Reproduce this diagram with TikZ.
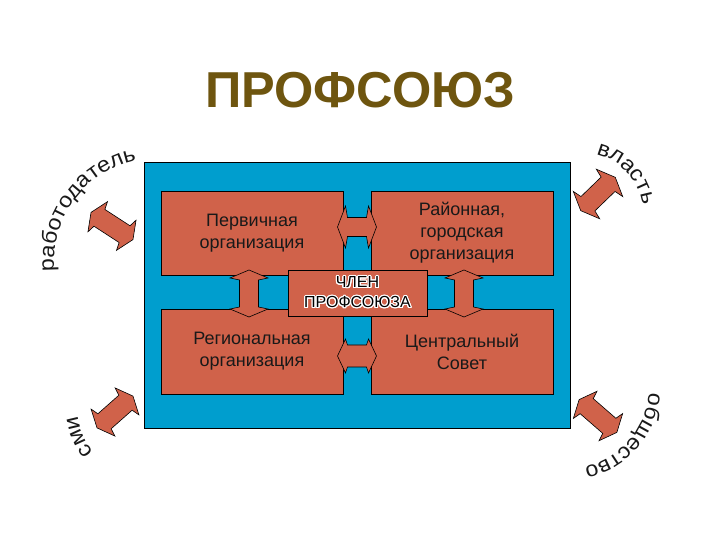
\documentclass[tikz,border=0pt]{standalone}
\usepackage{fontspec}
\setmainfont{Liberation Sans}
\newfontfamily\arcfam[FakeStretch=1.08]{Liberation Sans}
\usepackage[copies]{contour}
\contourlength{1.1pt}
\contournumber{20}
\usetikzlibrary{decorations.text,calc}
\definecolor{boxred}{RGB}{208,98,74}
\definecolor{panelblue}{RGB}{0,158,206}
\definecolor{titlebrown}{RGB}{110,85,15}
\definecolor{txt}{RGB}{25,25,25}
\newcommand{\arcfont}{\arcfam\fontsize{21.5}{21.5}\selectfont}
% #1 position, #2 angle, #3 half length, #4 half head width, #5 half shaft width
\newcommand{\dblarrow}[5]{%
  \draw[arrowshape, shift={#1}, rotate=#2] (-#3,0) -- ({-#3+8},#4) -- ({-#3+10},#5) -- ({#3-10},#5) -- ({#3-8},#4) -- (#3,0) -- ({#3-8},-#4) -- ({#3-10},-#5) -- ({-#3+10},-#5) -- ({-#3+8},-#4) -- cycle;}
\begin{document}
\begin{tikzpicture}[x=1pt,y=1pt,
  panel/.style={draw=black, line width=0.8pt, fill=panelblue, minimum width=426pt, minimum height=266pt, inner sep=0pt},
  orgbox/.style={draw=black, line width=0.8pt, fill=boxred, minimum width=182pt, minimum height=84pt, inner sep=0pt, align=center, text=txt, font=\fontsize{18}{22}\selectfont},
  memberbox/.style={draw=black, line width=0.8pt, fill=boxred, minimum width=139pt, minimum height=46pt, inner sep=0pt, align=center, text=black, font=\fontsize{16}{20}\selectfont},
  arrowshape/.style={draw=black, line width=0.6pt, fill=boxred, line join=miter},
  titlestyle/.style={text=titlebrown, font=\fontsize{50.5}{50.5}\selectfont\bfseries, inner sep=0pt},
  arctext/.style={decorate, decoration={text along path, text align=center, text color=txt, text={|\arcfont|#1}}},
]
\useasboundingbox (0,0) rectangle (720,540);
\fill[white] (0,0) rectangle (720,540);

\node[titlestyle, anchor=base] (title) at (360,432) {ПРОФСОЮЗ};

\node[panel] (panel) at (357,245) {};
\node[orgbox] (prim) at (252,307) {Первичная\\организация};
\node[orgbox] (rayon) at (462,307) {Районная,\\городская\\организация};
\node[orgbox, minimum height=85pt] (reg) at (252,188.5) {Региональная\\организация};
\node[orgbox, minimum height=85pt] (centr) at (462,188.5) {Центральный\\Совет};

\coordinate (ah1) at ($(prim.east)!0.5!(rayon.west)+(0,6)$);
\coordinate (ah2) at ($(reg.east)!0.5!(centr.west)+(0,-4.5)$);
\coordinate (av1) at ($(prim.south)!0.5!(reg.north)+(-3,-1.5)$);
\coordinate (av2) at ($(rayon.south)!0.5!(centr.north)+(2,-1.5)$);
\dblarrow{(ah1)}{0}{19.5}{21}{9.5}
\dblarrow{(ah2)}{0}{19.5}{17}{11}
\dblarrow{(av1)}{90}{23.5}{19}{9.5}
\dblarrow{(av2)}{90}{23.5}{19}{9.5}

\node[memberbox] (member) at (357.5,247) {\contour{white}{ЧЛЕН}\\\contour{white}{ПРОФСОЮЗА}};

\coordinate (otl) at (112,314);
\coordinate (otr) at (598,346);
\coordinate (obl) at (115,128);
\coordinate (obr) at (598,124);
\dblarrow{(otl)}{-33}{25}{18}{10}
\dblarrow{(otr)}{44}{24}{19}{10}
\dblarrow{(obl)}{41.5}{24}{18}{10}
\dblarrow{(obr)}{-41}{25}{18}{10}

\path[arctext={работодатель}] (158,278) ++(190:104pt) arc[start angle=190, end angle=97, radius=104pt];
\path[arctext={власть}] (583,327) ++(85:60pt) arc[start angle=85, end angle=0, radius=60pt];
\path[arctext={общество}] (567,153) ++(5:82pt) arc[start angle=5, end angle=-87, radius=82pt];
\path[arctext={сми}] (151,135) ++(232:74pt) arc[start angle=232, end angle=176, radius=74pt];
\end{tikzpicture}
\end{document}
